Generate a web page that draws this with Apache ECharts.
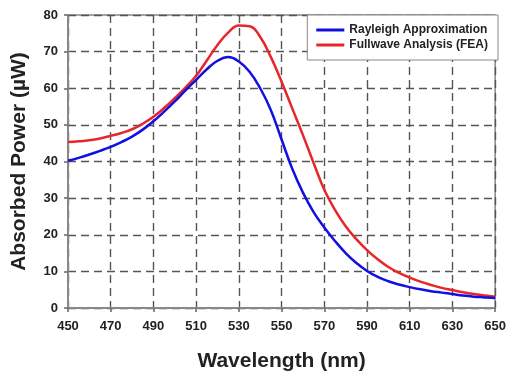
<!DOCTYPE html>
<html>
<head>
<meta charset="utf-8">
<script src="https://cdn.jsdelivr.net/npm/echarts@6/dist/echarts.min.js"></script>
<style>html,body{margin:0;padding:0;background:#fff;}#c{width:509px;height:377px;}</style>
</head>
<body>
<div id="c"></div>
<script>
const wavelengths = [450,455,460,465,470,475,480,485,490,495,500,505,510,515,520,525,530,535,540,545,550,555,560,565,570,575,580,585,590,595,600,605,610,615,620,625,630,635,640,645,650];
const rayleigh = [40.2,41.0,41.9,42.9,44.0,45.3,46.8,48.7,51.0,53.6,56.4,59.4,62.3,65.2,67.5,68.5,67.3,64.5,60.0,54.0,46.0,38.0,31.5,26.2,22.0,18.3,15.0,12.3,10.1,8.5,7.3,6.4,5.7,5.1,4.6,4.2,3.8,3.4,3.1,2.9,2.7];
const fullwave = [45.3,45.5,45.8,46.3,47.0,47.8,48.8,50.3,52.2,54.6,57.3,60.2,63.4,67.6,71.8,75.2,77.1,76.9,74.0,68.5,61.8,54.5,47.2,39.6,32.3,26.8,22.3,18.8,15.8,13.3,11.2,9.6,8.3,7.2,6.3,5.5,4.9,4.3,3.8,3.4,3.1];
const seriesNames = ['Rayleigh Approximation','Fullwave Analysis (FEA)'];
const xTitle = 'Wavelength (nm)';
const yTitle = 'Absorbed Power (\u00b5W)';

const pair = (ys) => wavelengths.map((w, i) => [w, ys[i]]);
const chart = echarts.init(document.getElementById('c'), null, {renderer: 'canvas'});
const font = 'Arial, "Liberation Sans", sans-serif';
const gridLine = {show: true, lineStyle: {color: '#555', type: [8, 5], width: 1.4}};
chart.setOption({
  animation: false,
  backgroundColor: '#fff',
  grid: {left: 68, right: 11, top: 15, bottom: 62, show: true, borderColor: '#888', borderWidth: 1.5, backgroundColor: 'transparent'},
  xAxis: {
    type: 'value', min: 450, max: 650, interval: 20,
    name: xTitle, nameLocation: 'middle', nameGap: 43,
    nameTextStyle: {fontFamily: font, fontWeight: 'bold', fontSize: 21, color: '#222'},
    axisLine: {show: true, lineStyle: {color: '#888', width: 2}},
    axisTick: {show: true, length: 4, lineStyle: {color: '#666', width: 1.5}},
    axisLabel: {fontFamily: font, fontWeight: 'bold', fontSize: 13, color: '#222', margin: 12},
    splitLine: gridLine
  },
  yAxis: {
    type: 'value', min: 0, max: 80, interval: 10,
    name: yTitle, nameLocation: 'middle', nameGap: 38, nameRotate: 90,
    nameTextStyle: {fontFamily: font, fontWeight: 'bold', fontSize: 21, color: '#222'},
    axisLine: {show: true, lineStyle: {color: '#888', width: 2}},
    axisTick: {show: true, length: 4, lineStyle: {color: '#666', width: 1.5}},
    axisLabel: {fontFamily: font, fontWeight: 'bold', fontSize: 13, color: '#222', margin: 10},
    splitLine: gridLine
  },
  legend: {
    orient: 'vertical', right: 11, top: 15,
    backgroundColor: '#fff', borderColor: '#888', borderWidth: 1, borderRadius: 0,
    padding: [9, 10, 9, 9], itemGap: 3, itemWidth: 28, itemHeight: 3, icon: 'rect',
    textStyle: {fontFamily: font, fontWeight: 'bold', fontSize: 12, color: '#222'},
    data: seriesNames
  },
  series: [
    {name: seriesNames[0], type: 'line', data: pair(rayleigh), smooth: 0.45, showSymbol: false, symbol: 'none',
     lineStyle: {color: '#1010e0', width: 2.5}, itemStyle: {color: '#1010e0'}, z: 3},
    {name: seriesNames[1], type: 'line', data: pair(fullwave), smooth: 0.45, showSymbol: false, symbol: 'none',
     lineStyle: {color: '#e8262a', width: 2.5}, itemStyle: {color: '#e8262a'}, z: 2}
  ]
});
</script>
</body>
</html>
